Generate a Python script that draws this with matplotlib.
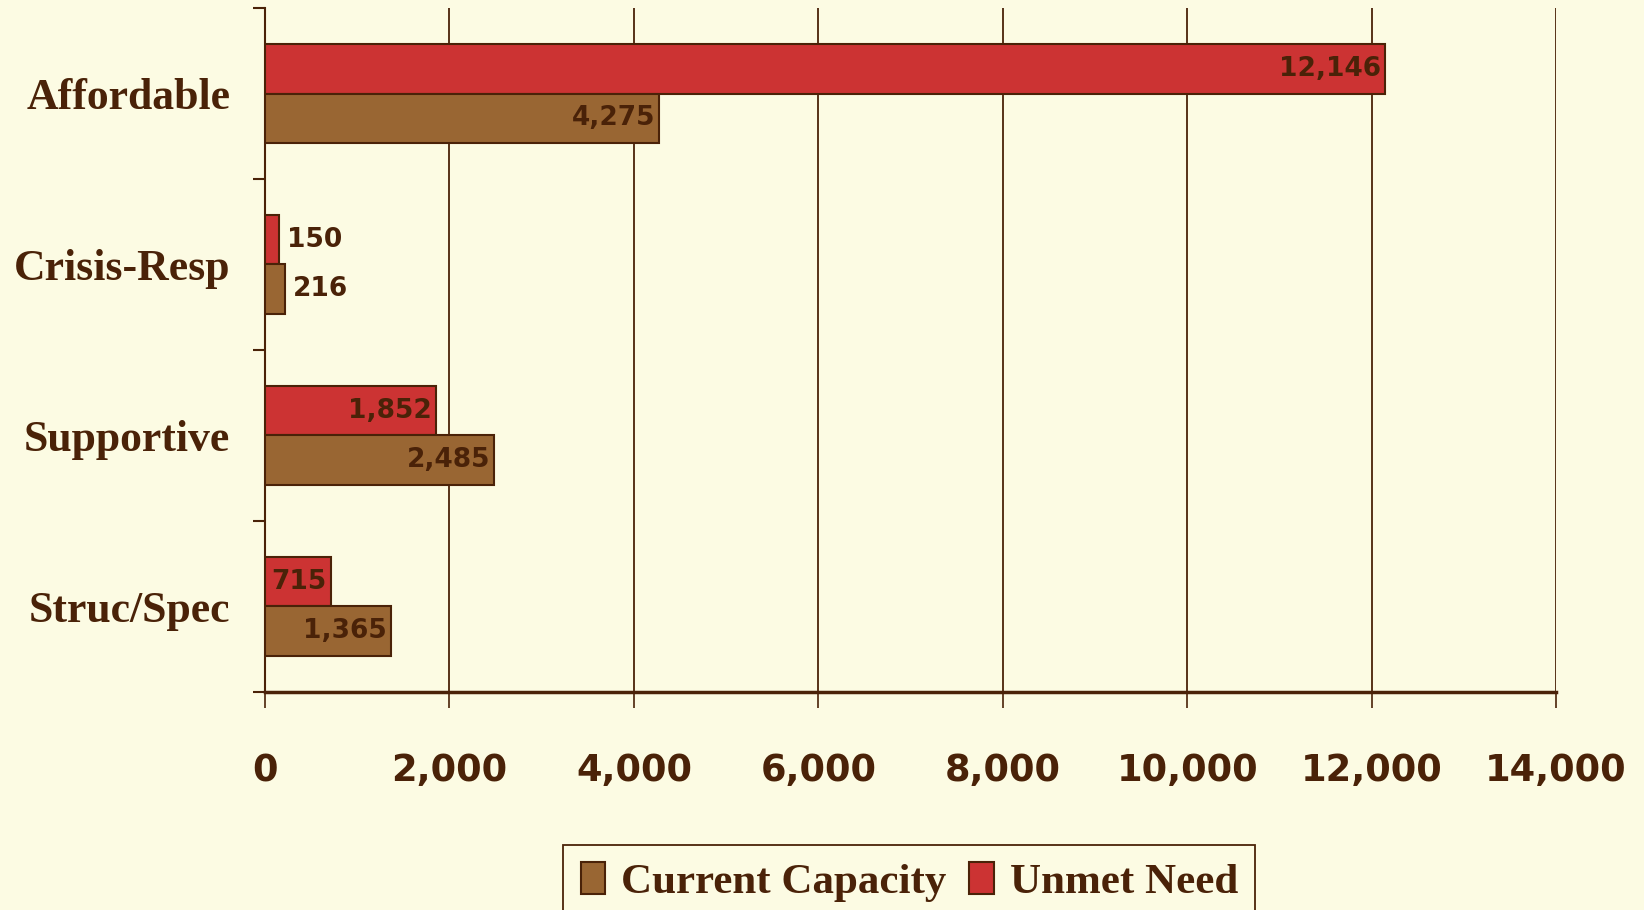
import numpy as np
import matplotlib
matplotlib.use("Agg")
import matplotlib.pyplot as plt
from matplotlib import ticker, font_manager

categories = ["Affordable", "Crisis-Resp", "Supportive", "Struc/Spec"]
current_capacity = [4275, 216, 2485, 1365]
unmet_need = [12146, 150, 1852, 715]
x_ticks = [0, 2000, 4000, 6000, 8000, 10000, 12000, 14000]

bg = "#FCFBE3"
ink = "#4A2208"
red = "#CC3333"
brown = "#996633"

# narrow sans for the numbers if we have one
installed = set(f.name for f in font_manager.fontManager.ttflist)
if "Liberation Sans Narrow" in installed:
    num_font, num_size, tick_size = "Liberation Sans Narrow", 26, 36
else:
    num_font, num_size, tick_size = "DejaVu Sans", 19, 26.5
cat_font = ["Liberation Serif", "DejaVu Serif"]

fig = plt.figure(figsize=(16.44, 9.10), dpi=100, facecolor=bg)
ax = fig.add_axes([0.1612, 0.2396, 0.7853, 0.7516], facecolor=bg)

h = 0.288
ypos = np.arange(len(categories))
ax.barh(ypos - h / 2, unmet_need, height=h, color=red, edgecolor=ink, linewidth=1.5, zorder=3)
ax.barh(ypos + h / 2, current_capacity, height=h, color=brown, edgecolor=ink, linewidth=1.5, zorder=3)

for i in range(len(categories)):
    for val, yy in [(unmet_need[i], ypos[i] - h / 2), (current_capacity[i], ypos[i] + h / 2)]:
        lab = "{:,}".format(val)
        if val > 500:
            ax.annotate(lab, (val, yy), xytext=(-3, 0), textcoords="offset points",
                        ha="right", va="center", fontsize=num_size, fontweight="bold",
                        color=ink, family=num_font, zorder=4)
        else:
            ax.annotate(lab, (val, yy), xytext=(6, 0), textcoords="offset points",
                        ha="left", va="center", fontsize=num_size, fontweight="bold",
                        color=ink, family=num_font, zorder=4)

ax.set_xlim(0, 14000)
ax.set_ylim(len(categories) - 0.5, -0.5)

ax.set_xticks(x_ticks)
ax.xaxis.set_major_formatter(ticker.FuncFormatter(lambda v, p: "{:,}".format(int(v))))
ax.tick_params(axis="x", direction="out", length=11.5, width=1.2, color=ink, pad=32,
               labelsize=tick_size, labelcolor=ink)
for t in ax.get_xticklabels():
    t.set_fontweight("bold")
    t.set_family(num_font)
ax.xaxis.grid(True, color=ink, linewidth=1.3)
ax.set_axisbelow(True)

ax.set_yticks(np.arange(len(categories) + 1) - 0.5)
ax.set_yticklabels([])
ax.set_yticks(ypos, minor=True)
ax.set_yticklabels(categories, minor=True)
ax.tick_params(axis="y", which="major", direction="out", length=9, width=1.5, color=ink)
ax.tick_params(axis="y", which="minor", length=0, pad=25, labelsize=31.5, labelcolor=ink)
for t in ax.get_yticklabels(minor=True):
    t.set_fontweight("bold")
    t.set_family(cat_font)
    t.set_va("center_baseline")

for s in ["top", "right"]:
    ax.spines[s].set_visible(False)
ax.spines["left"].set_color(ink)
ax.spines["left"].set_linewidth(1.5)
ax.spines["bottom"].set_color(ink)
ax.spines["bottom"].set_linewidth(2.5)

handles = [plt.Rectangle((0, 0), 1, 1, facecolor=brown, edgecolor=ink, linewidth=1.5),
           plt.Rectangle((0, 0), 1, 1, facecolor=red, edgecolor=ink, linewidth=1.5)]
leg = fig.legend(handles, ["Current Capacity", "Unmet Need"], ncol=2, loc="upper center",
                 bbox_to_anchor=(0.553, 0.0714), bbox_transform=fig.transFigure,
                 borderaxespad=0, fancybox=False, frameon=True, facecolor=bg,
                 edgecolor=ink, framealpha=1, handlelength=0.58, handleheight=0.75,
                 handletextpad=0.35, columnspacing=0.55, borderpad=0.4,
                 prop={"family": cat_font, "weight": "bold", "size": 31})
for t in leg.get_texts():
    t.set_color(ink)
leg.get_frame().set_linewidth(1.3)

fig.savefig("out.png", dpi=100, facecolor=bg)
